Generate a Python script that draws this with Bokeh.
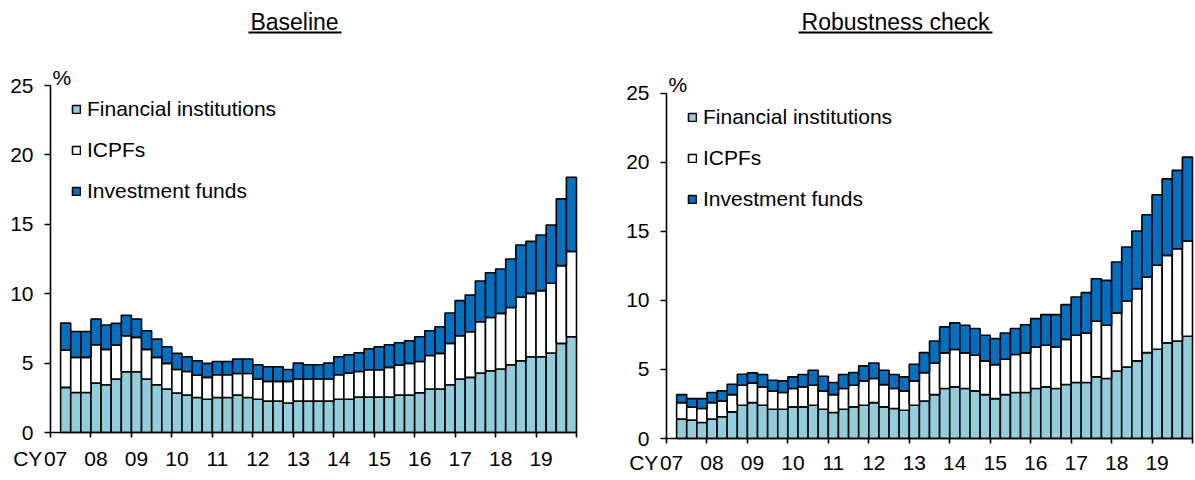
from bokeh.plotting import figure
from bokeh.models import (ColumnDataSource, Range1d, FixedTicker, Legend, LegendItem)
from bokeh.core.properties import value
from bokeh.layouts import row
from bokeh.embed import file_html
from bokeh.resources import INLINE

# ---------------- data ----------------
quarters = [f"{y}Q{q}" for y in range(2007, 2020) for q in range(1, 5)][1:]  # 2007Q2..2019Q4
year_labels = ["07", "08", "09", "10", "11", "12", "13", "14", "15", "16", "17", "18", "19"]
series_names = ["Financial institutions", "ICPFs", "Investment funds"]

base_fi = [3.25, 2.88, 2.88, 3.56, 3.44, 3.85, 4.38, 4.38, 3.85, 3.44, 3.13, 2.84, 2.69,
           2.52, 2.40, 2.52, 2.52, 2.69, 2.52, 2.40, 2.26, 2.26, 2.12, 2.26, 2.26, 2.26,
           2.26, 2.40, 2.40, 2.55, 2.55, 2.55, 2.55, 2.69, 2.69, 2.86, 3.13, 3.13, 3.44,
           3.85, 3.97, 4.28, 4.45, 4.57, 4.88, 5.17, 5.46, 5.46, 5.72, 6.42, 6.90]
base_icpf = [2.69, 2.53, 2.53, 2.76, 2.55, 2.45, 2.59, 2.47, 2.14, 1.97, 1.85, 1.70, 1.71,
             1.61, 1.57, 1.64, 1.64, 1.56, 1.73, 1.45, 1.42, 1.42, 1.56, 1.59, 1.59, 1.59,
             1.59, 1.76, 1.88, 1.85, 1.97, 1.97, 2.14, 2.17, 2.29, 2.26, 2.42, 2.57, 2.98,
             3.12, 3.29, 3.70, 3.84, 4.01, 4.13, 4.57, 4.56, 4.76, 5.03, 5.60, 6.15]
base_inv = [1.94, 1.87, 1.87, 1.85, 1.75, 1.56, 1.47, 1.32, 1.34, 1.32, 1.20, 1.16, 1.06,
            1.04, 1.01, 0.96, 0.96, 1.04, 1.04, 1.03, 1.06, 1.06, 0.86, 1.15, 1.03, 1.03,
            1.15, 1.30, 1.32, 1.35, 1.51, 1.66, 1.63, 1.61, 1.63, 1.78, 1.78, 1.92, 2.19,
            2.53, 2.64, 2.93, 3.22, 3.20, 3.49, 3.77, 3.75, 4.01, 4.20, 4.81, 5.34]

rob_fi = [1.40, 1.33, 1.16, 1.40, 1.57, 1.93, 2.41, 2.60, 2.41, 2.12, 2.12, 2.29, 2.29,
          2.41, 2.12, 1.88, 2.12, 2.29, 2.41, 2.60, 2.29, 2.17, 2.05, 2.41, 2.72, 3.18,
          3.62, 3.74, 3.62, 3.45, 3.18, 2.89, 3.18, 3.33, 3.33, 3.62, 3.74, 3.62, 3.91,
          4.05, 4.05, 4.46, 4.34, 4.89, 5.18, 5.62, 6.22, 6.46, 6.92, 7.06, 7.40]
rob_icpf = [1.20, 0.96, 1.01, 1.20, 1.15, 1.25, 1.45, 1.43, 1.33, 1.33, 1.21, 1.33, 1.45,
            1.45, 1.33, 1.30, 1.50, 1.57, 1.76, 1.74, 1.61, 1.45, 1.40, 1.76, 2.05, 2.29,
            2.58, 2.70, 2.58, 2.58, 2.44, 2.46, 2.56, 2.75, 2.87, 3.01, 3.01, 3.01, 3.27,
            3.42, 3.59, 4.03, 3.86, 4.20, 4.78, 5.23, 5.47, 6.08, 6.34, 6.68, 6.90]
rob_inv = [0.58, 0.60, 0.72, 0.73, 0.73, 0.75, 0.79, 0.72, 0.89, 0.77, 0.84, 0.84, 0.89,
           1.08, 1.06, 0.87, 1.01, 0.91, 1.09, 1.13, 1.04, 1.01, 1.01, 1.21, 1.45, 1.59,
           1.88, 1.93, 2.00, 1.93, 1.85, 1.88, 1.90, 1.88, 2.04, 2.05, 2.22, 2.34, 2.51,
           2.78, 2.92, 3.08, 3.25, 3.69, 3.90, 4.17, 4.51, 5.11, 5.54, 5.67, 6.07]

# ---------------- styling ----------------
FONT = "Liberation Sans"
COLORS = ["#92CDDC", "#FFFFFF", "#0070C0"]
N_SLOTS = 52          # 2007Q1 .. 2019Q4
CY_POS = -2.25        # position of the "CY" prefix, left of the value axis
H = 480
LW = 1.6


def qpos(label):
    y, q = int(label[:4]), int(label[-1])
    return (y - 2007) * 4 + (q - 1) + 0.5


def make_panel(title, fi, icpf, inv, canvas_x0, canvas_w, ax, fr, z, y25,
               pct_mid, title_cx, ul_left, ul_right, leg_first, x_standoff):
    """ax: page x of value axis (x=0); fr: page x of the end; z: page y of value 0."""
    xs = (fr - ax) / N_SLOTS        # pixels per quarter
    u = (z - y25) / 25.0            # pixels per unit
    p = figure(width=canvas_w, height=H, output_backend="svg",
               toolbar_location=None, title=None, frame_align=False,
               x_range=Range1d((canvas_x0 - ax) / xs, (canvas_x0 + canvas_w - ax) / xs),
               y_range=Range1d((z - H) / u, z / u),
               min_border_left=0, min_border_right=0,
               min_border_top=0, min_border_bottom=0)
    p.outline_line_color = None
    p.grid.visible = False
    p.background_fill_color = "white"
    p.border_fill_color = "white"

    src = ColumnDataSource(dict(x=[qpos(q) for q in quarters], fi=fi, icpf=icpf, inv=inv))
    rs = p.vbar_stack(["fi", "icpf", "inv"], x="x", width=1.0, source=src,
                      fill_color=COLORS, line_color="black", line_width=LW)
    # x axis rule (from the value axis to the end)
    p.segment(x0=[0], y0=[0], x1=[N_SLOTS], y1=[0], line_color="black", line_width=LW)

    # y axis, drawn at x = 0
    ya = p.yaxis[0]
    ya.fixed_location = 0
    ya.ticker = FixedTicker(ticks=[0, 5, 10, 15, 20, 25])
    ya.bounds = (0, 25)
    ya.axis_line_width = LW
    ya.major_tick_line_width = LW
    ya.major_tick_out = 6
    ya.major_tick_in = 0
    ya.minor_tick_line_color = None
    ya.major_label_text_font = FONT
    ya.major_label_text_font_size = "21px"
    ya.major_label_text_color = "black"
    ya.major_label_standoff = 11

    # x axis at y = 0: labels at Q1 centres, year-boundary ticks as minor ticks
    xa = p.xaxis[0]
    xa.fixed_location = 0
    label_pos = [CY_POS] + [i * 4 + 0.5 for i in range(len(year_labels))]
    label_txt = ["CY"] + year_labels
    xa.ticker = FixedTicker(ticks=label_pos, minor_ticks=[i * 4 for i in range(14)])
    xa.major_label_overrides = {pos: lab for pos, lab in zip(label_pos, label_txt)}
    xa.axis_line_color = None
    xa.major_tick_line_color = None
    xa.major_tick_out = 0
    xa.major_tick_in = 0
    xa.minor_tick_line_color = "black"
    xa.minor_tick_line_width = LW
    xa.minor_tick_out = 5
    xa.minor_tick_in = 0
    xa.major_label_text_font = FONT
    xa.major_label_text_font_size = "21px"
    xa.major_label_text_color = "black"
    xa.major_label_standoff = x_standoff

    def dx(px):
        return (px - ax) / xs

    def dy(py):
        return (z - py) / u

    # title + underline
    p.text(x=[dx(title_cx)], y=[dy(21)], text=[title], text_align="center",
           text_baseline="middle", text_font=value(FONT), text_font_size="23px",
           text_color="black")
    p.segment(x0=[dx(ul_left)], y0=[dy(32)], x1=[dx(ul_right)], y1=[dy(32)],
              line_color="black", line_width=2)

    # % unit label
    p.text(x=[dx(ax + 2)], y=[dy(pct_mid)], text=["%"], text_align="left",
           text_baseline="middle", text_font=value(FONT), text_font_size="21px",
           text_color="black")

    # legend
    item_h, gap = 24, 17
    leg_h = 3 * item_h + 2 * gap
    leg_bottom = leg_first - item_h / 2 + leg_h
    legend = Legend(items=[LegendItem(label=n, renderers=[r]) for n, r in zip(series_names, rs)],
                    location=(ax + 21 - canvas_x0, H - leg_bottom), orientation="vertical",
                    glyph_width=10, glyph_height=10, label_height=item_h, spacing=gap,
                    label_standoff=6, padding=0, margin=0,
                    border_line_color=None, background_fill_alpha=0,
                    label_text_font=FONT, label_text_font_size="21px",
                    label_text_color="black")
    p.add_layout(legend)
    return p


left = make_panel("Baseline", base_fi, base_icpf, base_inv,
                  canvas_x0=0, canvas_w=600, ax=50, fr=576, z=432, y25=85,
                  pct_mid=77, title_cx=294, ul_left=248, ul_right=341, leg_first=108.5,
                  x_standoff=9)
right = make_panel("Robustness check", rob_fi, rob_icpf, rob_inv,
                   canvas_x0=600, canvas_w=595, ax=666, fr=1192, z=438, y25=92.7,
                   pct_mid=84, title_cx=895, ul_left=798, ul_right=992, leg_first=116.5,
                   x_standoff=7)

layout = row(left, right)
open("out.html", "w").write(file_html(layout, INLINE))
